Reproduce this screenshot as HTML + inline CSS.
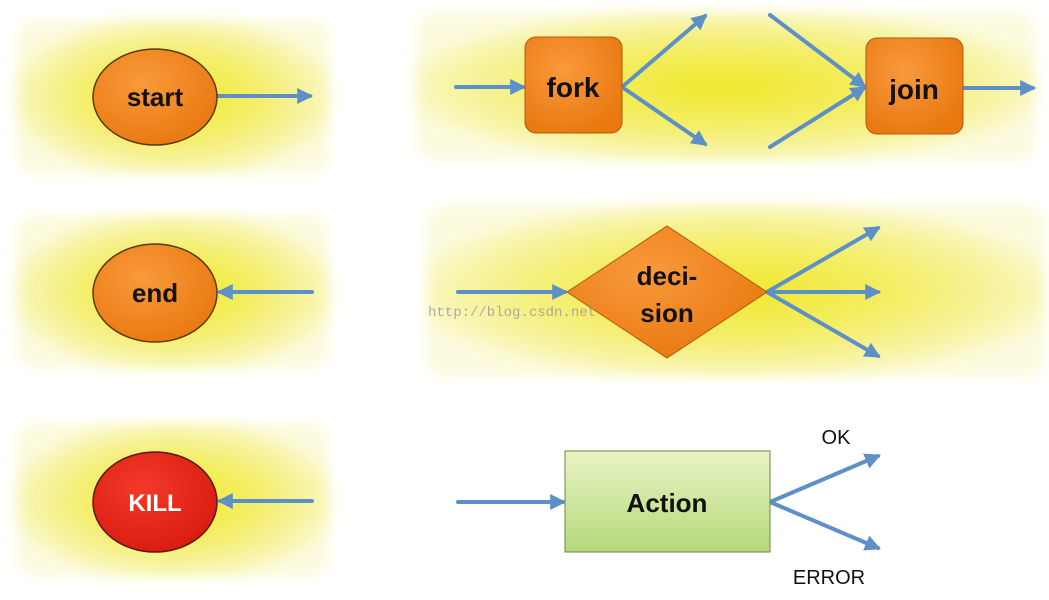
<!DOCTYPE html>
<html><head><meta charset="utf-8"><style>
html,body{margin:0;padding:0;background:#fff;}
svg{display:block;}
text{font-family:"Liberation Sans",sans-serif;font-weight:bold;fill:#111;}
</style></head><body>
<svg width="1049" height="600" viewBox="0 0 1049 600" xmlns="http://www.w3.org/2000/svg">
<defs>
<radialGradient id="yg" cx="0.5" cy="0.5" r="0.55">
<stop offset="0" stop-color="#f0e82a"/>
<stop offset="0.5" stop-color="#f4ee6a"/>
<stop offset="0.85" stop-color="#f8f5b0"/>
<stop offset="1" stop-color="#fcfbe0"/>
</radialGradient>
<filter id="blur" x="-10%" y="-20%" width="120%" height="140%"><feGaussianBlur stdDeviation="6"/></filter>
<radialGradient id="og" cx="0.4" cy="0.35" r="0.7">
<stop offset="0" stop-color="#f89a3c"/><stop offset="1" stop-color="#e9780f"/>
</radialGradient>
<radialGradient id="rg" cx="0.4" cy="0.35" r="0.7">
<stop offset="0" stop-color="#f33a2a"/><stop offset="1" stop-color="#d81b10"/>
</radialGradient>
<linearGradient id="gg" x1="0" y1="0" x2="0" y2="1">
<stop offset="0" stop-color="#e8f4c4"/><stop offset="1" stop-color="#b5d97a"/>
</linearGradient>
<marker id="ah" viewBox="0 0 10 10" refX="8" refY="5" markerWidth="4" markerHeight="4" orient="auto">
<path d="M0,0 L10,5 L0,10 Z" fill="#5e90c8"/>
</marker>
</defs>
<g filter="url(#blur)">
<rect x="16" y="20" width="314" height="154" rx="20" fill="url(#yg)"/>
<rect x="416" y="12" width="619" height="149" rx="20" fill="url(#yg)"/>
<rect x="16" y="215" width="314" height="154" rx="20" fill="url(#yg)"/>
<rect x="426" y="205" width="619" height="172" rx="20" fill="url(#yg)"/>
<rect x="16" y="423" width="314" height="154" rx="20" fill="url(#yg)"/>
</g>
<g stroke="#5e90c8" stroke-width="4" fill="none" stroke-linecap="round">
<line x1="217" y1="96" x2="310" y2="96" marker-end="url(#ah)"/>
<line x1="312" y1="292" x2="220" y2="292" marker-end="url(#ah)"/>
<line x1="312" y1="501" x2="220" y2="501" marker-end="url(#ah)"/>
<line x1="456" y1="87" x2="523" y2="87" marker-end="url(#ah)"/>
<line x1="622" y1="87" x2="705" y2="16" marker-end="url(#ah)"/>
<line x1="622" y1="87" x2="705" y2="144" marker-end="url(#ah)"/>
<line x1="770" y1="15" x2="864" y2="86" marker-end="url(#ah)"/>
<line x1="770" y1="147" x2="864" y2="88" marker-end="url(#ah)"/>
<line x1="963" y1="88" x2="1033" y2="88" marker-end="url(#ah)"/>
<line x1="458" y1="292" x2="565" y2="292" marker-end="url(#ah)"/>
<line x1="767" y1="292" x2="878" y2="228" marker-end="url(#ah)"/>
<line x1="767" y1="292" x2="878" y2="292" marker-end="url(#ah)"/>
<line x1="767" y1="292" x2="878" y2="356" marker-end="url(#ah)"/>
<line x1="458" y1="502" x2="563" y2="502" marker-end="url(#ah)"/>
<line x1="770" y1="502" x2="878" y2="456" marker-end="url(#ah)"/>
<line x1="770" y1="502" x2="878" y2="548" marker-end="url(#ah)"/>
</g>
<ellipse cx="155" cy="97" rx="62" ry="48" fill="url(#og)" stroke="#5a3a10" stroke-width="1.5"/>
<ellipse cx="155" cy="293" rx="62" ry="49" fill="url(#og)" stroke="#5a3a10" stroke-width="1.5"/>
<ellipse cx="155" cy="502" rx="62" ry="50" fill="url(#rg)" stroke="#5a1a10" stroke-width="1.5"/>
<rect x="525" y="37" width="97" height="96" rx="11" fill="url(#og)" stroke="#b05a10" stroke-width="1"/>
<rect x="866" y="38" width="97" height="96" rx="11" fill="url(#og)" stroke="#b05a10" stroke-width="1"/>
<polygon points="567,292 667,226 767,292 667,358" fill="url(#og)" stroke="#b05a10" stroke-width="1"/>
<rect x="565" y="451" width="205" height="101" fill="url(#gg)" stroke="#6a8a3a" stroke-width="1"/>
<text x="155" y="106" font-size="26" text-anchor="middle">start</text>
<text x="155" y="302" font-size="26" text-anchor="middle">end</text>
<text x="155" y="511" font-size="24" text-anchor="middle" style="fill:#fff">KILL</text>
<text x="573" y="97" font-size="28" text-anchor="middle">fork</text>
<text x="914" y="99" font-size="28" text-anchor="middle">join</text>
<text x="667" y="285" font-size="26" text-anchor="middle">deci-</text>
<text x="667" y="322" font-size="26" text-anchor="middle">sion</text>
<text x="667" y="512" font-size="26" text-anchor="middle">Action</text>
<text x="836" y="444" font-size="20" text-anchor="middle" style="font-weight:normal">OK</text>
<text x="829" y="584" font-size="20" text-anchor="middle" style="font-weight:normal">ERROR</text>
<text x="428" y="316" font-size="14" style="font-family:'Liberation Mono',monospace;font-weight:normal;fill:#999;opacity:0.8">http://blog.csdn.net</text>
</svg>
</body></html>
